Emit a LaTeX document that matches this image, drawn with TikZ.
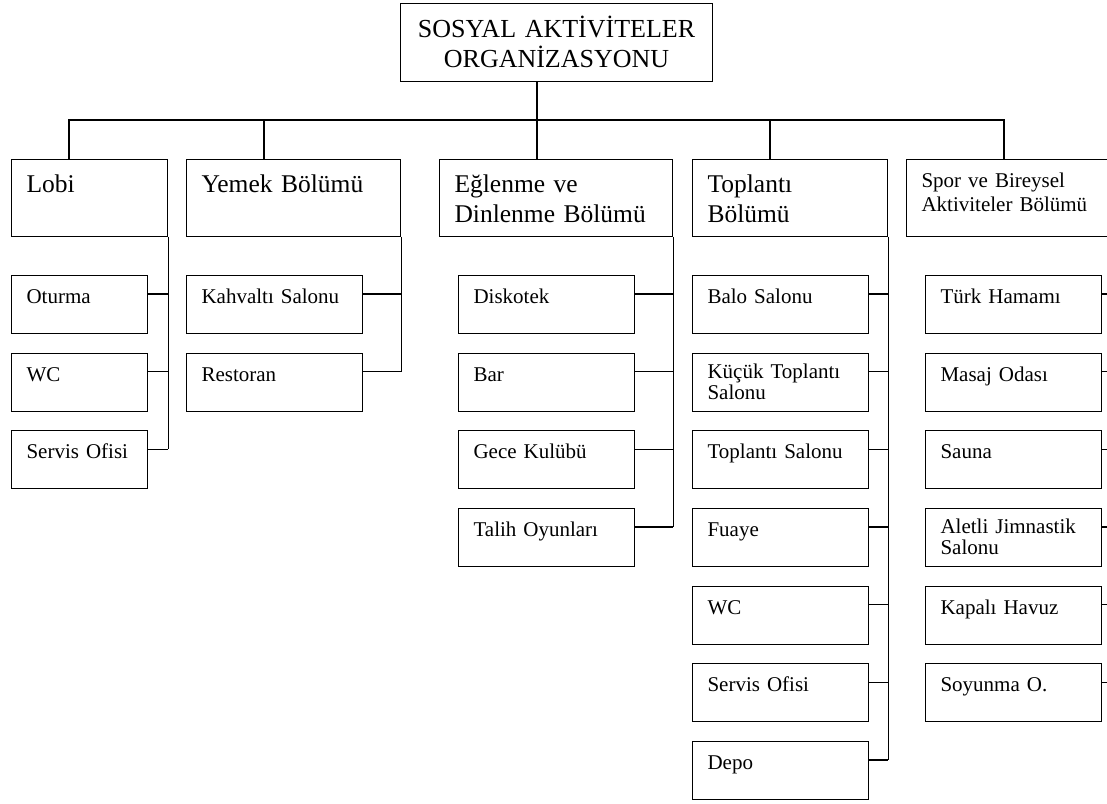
\documentclass[tikz,border=0pt]{standalone}
\usepackage{fontspec}
\setmainfont{Liberation Serif}
\tikzset{
  ln/.style={line width=1.1pt, black},
  bx/.style={draw, ln, rectangle, anchor=north west, inner xsep=15pt, inner ysep=0pt, align=left},
  titlebox/.style={bx, inner xsep=0pt, align=center, text width=312pt, text height=34pt, text depth=44pt,
                   font=\fontsize{26}{30}\selectfont},
  headbox/.style={bx, text height=33pt, text depth=44pt, font=\fontsize{25.5}{29.5}\selectfont},
  sporbox/.style={bx, text height=28pt, text depth=49pt, font=\fontsize{21}{24}\selectfont},
  kid/.style={bx, text width=#1, text height=28pt, text depth=30pt, font=\fontsize{21}{21}\selectfont},
  kidtwo/.style={bx, text width=#1, text height=25pt, text depth=33pt, font=\fontsize{21}{21}\selectfont},
}
\newcommand\kidlink[2]{%
  \coordinate (#1c) at ([yshift=-19pt]#1.north east);
  \draw[ln] (#1c) -- (#1c -| #2.east);}
\newcommand\spine[2]{\draw[ln] (#1.south east) -- (#2c -| #1.east);}
\begin{document}
\begin{tikzpicture}[x=1pt, y=-1pt]
\useasboundingbox (0,0) rectangle (1107,803);
\fill[white] (0,0) rectangle (1107,803);
\clip (0,0) rectangle (1107,803);

% title
\node[titlebox] (title) at (400,3) {SOSYAL AKTİVİTELER\\ORGANİZASYONU};

% heads
\node[headbox, text width=126pt] (lobi) at (11,159) {Lobi};
\node[headbox, text width=184pt] (yemek) at (186,159) {Yemek Bölümü};
\node[headbox, text width=203pt] (eglen) at (439,159) {Eğlenme ve\\Dinlenme Bölümü};
\node[headbox, text width=165pt] (topl) at (692,159) {Toplantı\\Bölümü};
\node[sporbox, text width=210pt] (spor) at (906,159) {Spor ve Bireysel\\Aktiviteler Bölümü};

% bus
\coordinate (bus1) at (69,120);
\coordinate (bus2) at (264,120);
\coordinate (bus3) at (537,120);
\coordinate (bus4) at (770,120);
\coordinate (bus5) at (1004,120);
\draw[ln] (title.south -| bus3) -- (bus3);
\draw[ln] (bus1 |- lobi.north) -- (bus1) -- (bus5) -- (bus5 |- spor.north);
\draw[ln] (bus2) -- (bus2 |- yemek.north);
\draw[ln] (bus3) -- (bus3 |- eglen.north);
\draw[ln] (bus4) -- (bus4 |- topl.north);

% Lobi children
\node[kid=106pt] (l1) at (11,275) {Oturma};
\node[kid=106pt] (l2) at (11,352.7) {WC};
\node[kid=106pt] (l3) at (11,430.3) {Servis Ofisi};
% Yemek children
\node[kid=146pt] (y1) at (186,275) {Kahvaltı Salonu};
\node[kid=146pt] (y2) at (186,352.7) {Restoran};
% Eglenme children
\node[kid=146pt] (e1) at (458,275) {Diskotek};
\node[kid=146pt] (e2) at (458,352.7) {Bar};
\node[kid=146pt] (e3) at (458,430.3) {Gece Kulübü};
\node[kid=146pt] (e4) at (458,508) {Talih Oyunları};
% Toplanti children
\node[kid=146pt] (t1) at (692,275) {Balo Salonu};
\node[kidtwo=146pt] (t2) at (692,352.7) {Küçük Toplantı\\Salonu};
\node[kid=146pt] (t3) at (692,430.3) {Toplantı Salonu};
\node[kid=146pt] (t4) at (692,508) {Fuaye};
\node[kid=146pt] (t5) at (692,585.7) {WC};
\node[kid=146pt] (t6) at (692,663.3) {Servis Ofisi};
\node[kid=146pt] (t7) at (692,741) {Depo};
% Spor children
\node[kid=146pt] (s1) at (925,275) {Türk Hamamı};
\node[kid=146pt] (s2) at (925,352.7) {Masaj Odası};
\node[kid=146pt] (s3) at (925,430.3) {Sauna};
\node[kidtwo=146pt] (s4) at (925,508) {Aletli Jimnastik\\Salonu};
\node[kid=146pt] (s5) at (925,585.7) {Kapalı Havuz};
\node[kid=146pt] (s6) at (925,663.3) {Soyunma O.};

% connectors
\kidlink{l1}{lobi}\kidlink{l2}{lobi}\kidlink{l3}{lobi}
\spine{lobi}{l3}
\kidlink{y1}{yemek}\kidlink{y2}{yemek}
\spine{yemek}{y2}
\kidlink{e1}{eglen}\kidlink{e2}{eglen}\kidlink{e3}{eglen}\kidlink{e4}{eglen}
\spine{eglen}{e4}
\kidlink{t1}{topl}\kidlink{t2}{topl}\kidlink{t3}{topl}\kidlink{t4}{topl}
\kidlink{t5}{topl}\kidlink{t6}{topl}\kidlink{t7}{topl}
\spine{topl}{t7}
\kidlink{s1}{spor}\kidlink{s2}{spor}\kidlink{s3}{spor}\kidlink{s4}{spor}
\kidlink{s5}{spor}\kidlink{s6}{spor}
\spine{spor}{s6}
\end{tikzpicture}
\end{document}
